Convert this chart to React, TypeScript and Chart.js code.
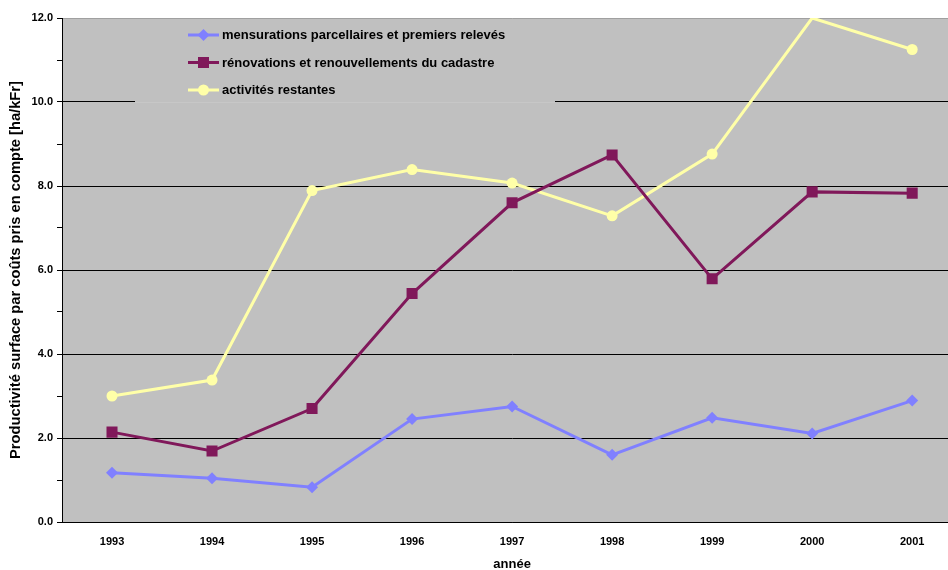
import React, { useEffect, useRef } from 'react';
import { Chart, registerables } from 'chart.js';

Chart.register(...registerables);

const years = ['1993', '1994', '1995', '1996', '1997', '1998', '1999', '2000', '2001'];
const mensurations = [1.17, 1.04, 0.83, 2.45, 2.75, 1.6, 2.48, 2.11, 2.89];
const renovations = [2.14, 1.69, 2.7, 5.44, 7.6, 8.74, 5.79, 7.86, 7.83];
const restantes = [3.0, 3.38, 7.89, 8.39, 8.07, 7.29, 8.76, 12.0, 11.25];
const seriesNames = [
  'mensurations parcellaires et premiers relevés',
  'rénovations et renouvellements du cadastre',
  'activités restantes',
];
const yTitle = 'Productivité surface par coûts pris en compte [ha/kFr]';
const xTitle = 'année';
const yMin = 0;
const yMax = 12;

const FONT = "'Liberation Sans', Arial, sans-serif";
const BLUE = '#8080ff';
const PURPLE = '#80185a';
const YELLOW = '#ffffa8';
const PLOT_BG = '#c0c0c0';

function drawMarker(ctx: CanvasRenderingContext2D, style: string, x: number, y: number, color: string) {
  ctx.fillStyle = color;
  ctx.beginPath();
  if (style === 'rectRot') {
    const r = 6;
    ctx.moveTo(x - r, y);
    ctx.lineTo(x, y - r);
    ctx.lineTo(x + r, y);
    ctx.lineTo(x, y + r);
    ctx.closePath();
  } else if (style === 'rect') {
    const s = 5.5;
    ctx.rect(x - s, y - s, 2 * s, 2 * s);
  } else {
    ctx.arc(x, y, 5.5, 0, Math.PI * 2);
  }
  ctx.fill();
}

const bgPlugin = {
  id: 'plotBg',
  beforeDraw(chart: any) {
    const { ctx, chartArea } = chart;
    ctx.save();
    ctx.fillStyle = PLOT_BG;
    ctx.fillRect(chartArea.left, chartArea.top, chartArea.right - chartArea.left, chartArea.bottom - chartArea.top);
    ctx.restore();
  },
};

const legendPlugin = {
  id: 'insideLegend',
  afterDatasetsDraw(chart: any) {
    const { ctx, chartArea } = chart;
    const boxX = chartArea.left + 73;
    const boxY = chartArea.top + 4;
    const boxW = 420;
    const boxH = 81;
    ctx.save();
    ctx.fillStyle = PLOT_BG;
    ctx.fillRect(boxX, boxY, boxW, boxH);
    ctx.strokeStyle = 'rgba(255,255,255,0.12)';
    ctx.lineWidth = 1;
    ctx.beginPath();
    ctx.moveTo(boxX, boxY + boxH - 0.5);
    ctx.lineTo(boxX + boxW, boxY + boxH - 0.5);
    ctx.stroke();
    const rows = [chartArea.top + 17, chartArea.top + 44.5, chartArea.top + 72];
    chart.data.datasets.forEach((ds: any, i: number) => {
      const y = rows[i];
      const x0 = chartArea.left + 126;
      const x1 = chartArea.left + 157;
      ctx.strokeStyle = ds.borderColor;
      ctx.lineWidth = 3;
      ctx.beginPath();
      ctx.moveTo(x0, y);
      ctx.lineTo(x1, y);
      ctx.stroke();
      drawMarker(ctx, ds.pointStyle, (x0 + x1) / 2, y, ds.pointBackgroundColor);
      ctx.fillStyle = '#000';
      ctx.font = `bold 13px ${FONT}`;
      ctx.textBaseline = 'middle';
      ctx.textAlign = 'left';
      ctx.fillText(ds.label, x1 + 3, y + 0.5);
    });
    ctx.restore();
  },
};

export default function App() {
  const ref = useRef<HTMLCanvasElement | null>(null);

  useEffect(() => {
    if (!ref.current) return;
    const hideAtMax = (c: any, r: number) => {
      const v = c.raw;
      return typeof v === 'number' && v >= yMax ? 0 : r;
    };
    const chart = new Chart(ref.current, {
      type: 'line',
      data: {
        labels: years,
        datasets: [
          {
            label: seriesNames[0],
            data: mensurations,
            borderColor: BLUE,
            backgroundColor: BLUE,
            pointBackgroundColor: BLUE,
            pointBorderColor: BLUE,
            pointStyle: 'rectRot',
            pointRadius: (c: any) => hideAtMax(c, 6),
            borderWidth: 3,
            pointBorderWidth: 0,
            tension: 0,
          },
          {
            label: seriesNames[1],
            data: renovations,
            borderColor: PURPLE,
            backgroundColor: PURPLE,
            pointBackgroundColor: PURPLE,
            pointBorderColor: PURPLE,
            pointStyle: 'rect',
            pointRadius: (c: any) => hideAtMax(c, 7.8),
            borderWidth: 3,
            pointBorderWidth: 0,
            tension: 0,
          },
          {
            label: seriesNames[2],
            data: restantes,
            borderColor: YELLOW,
            backgroundColor: YELLOW,
            pointBackgroundColor: YELLOW,
            pointBorderColor: YELLOW,
            pointStyle: 'circle',
            pointRadius: (c: any) => hideAtMax(c, 5.5),
            borderWidth: 3,
            pointBorderWidth: 0,
            tension: 0,
          },
        ] as any,
      },
      options: {
        animation: false,
        responsive: false,
        maintainAspectRatio: false,
        layout: { padding: { top: 18, right: 0, bottom: 0, left: 0 } },
        plugins: {
          legend: { display: false },
          tooltip: { enabled: false },
        },
        scales: {
          x: {
            type: 'category',
            offset: true,
            grid: { display: false },
            border: { display: true, color: '#000', width: 1 },
            ticks: {
              color: '#000',
              font: { family: FONT, size: 11, weight: 'bold' },
              padding: 5,
              maxRotation: 0,
            },
            title: {
              display: true,
              text: xTitle,
              color: '#000',
              font: { family: FONT, size: 13, weight: 'bold' },
              padding: { top: 0, bottom: -2 },
            },
            afterFit: (s: any) => {
              s.height = 48;
            },
          },
          y: {
            min: yMin,
            max: yMax,
            grid: {
              color: (c: any) => {
                const v = c.tick ? c.tick.value : 0;
                if (v >= yMax) return '#a0a0a0';
                return v % 2 === 0 ? '#000' : 'rgba(0,0,0,0)';
              },
              tickColor: '#000',
              tickLength: 5,
              lineWidth: 1,
              drawTicks: true,
            },
            border: { display: true, color: '#000', width: 1 },
            ticks: {
              stepSize: 1,
              autoSkip: false,
              color: '#000',
              padding: 4,
              font: { family: FONT, size: 11, weight: 'bold' },
              callback: (v: any) => (Number(v) % 2 === 0 ? Number(v).toFixed(1) : ''),
            },
            title: {
              display: true,
              text: yTitle,
              color: '#000',
              font: { family: FONT, size: 14.7, weight: 'bold' },
              padding: { top: 7, bottom: 0 },
            },
            afterFit: (s: any) => {
              s.width = 62;
            },
          },
        },
      } as any,
      plugins: [bgPlugin, legendPlugin],
    });
    return () => chart.destroy();
  }, []);

  return (
    <div style={{ position: 'absolute', left: 0, top: 0, width: 948, height: 570, overflow: 'hidden', background: '#fff' }}>
      <canvas ref={ref} width={970} height={570} style={{ display: 'block', width: 970, height: 570 }} />
    </div>
  );
}
